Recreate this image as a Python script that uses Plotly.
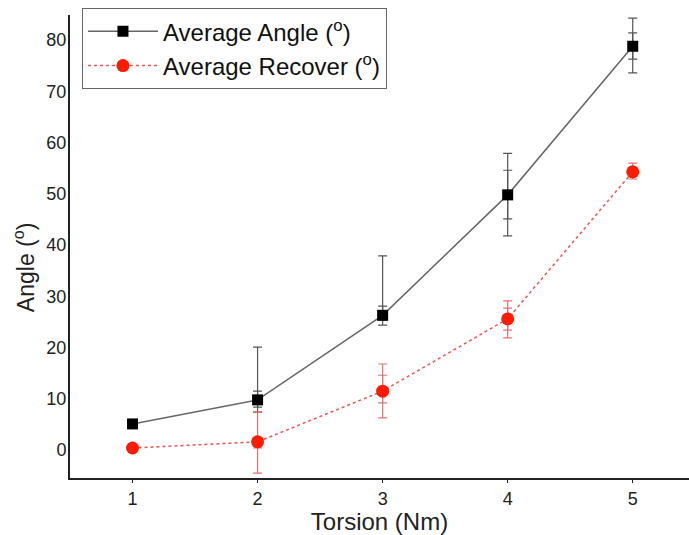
import plotly.graph_objects as go

torsion = [1, 2, 3, 4, 5]
avg_angle = [5.1, 9.8, 26.3, 49.8, 78.8]
angle_outer_up = [0, 10.3, 11.6, 8.1, 5.5]
angle_outer_dn = [0, 2.4, 1.9, 8.0, 5.2]
angle_inner_up = [0, 1.7, 1.8, 4.8, 2.6]
angle_inner_dn = [0, 1.4, 0.9, 4.7, 2.5]

avg_recover = [0.4, 1.6, 11.5, 25.6, 54.3]
rec_outer_up = [0, 5.8, 5.3, 3.5, 1.7]
rec_outer_dn = [0, 6.1, 5.2, 3.7, 1.4]
rec_inner_up = [0, 0.9, 3.1, 2.1, 0]
rec_inner_dn = [0, 1.2, 2.3, 2.2, 0]

FONT = "Liberation Sans, Arial, sans-serif"
fig = go.Figure()

def err(up, dn, color):
    return dict(type="data", symmetric=False, array=up, arrayminus=dn,
                color=color, thickness=1.2, width=4.5)

# inner error bars (no legend)
fig.add_trace(go.Scatter(x=torsion, y=avg_angle, mode="markers", showlegend=False,
                         marker=dict(size=1, color="rgba(0,0,0,0)"),
                         error_y=err(angle_inner_up, angle_inner_dn, "#555555"),
                         hoverinfo="skip"))
fig.add_trace(go.Scatter(x=torsion, y=avg_recover, mode="markers", showlegend=False,
                         marker=dict(size=1, color="rgba(0,0,0,0)"),
                         error_y=err(rec_inner_up, rec_inner_dn, "#e87070"),
                         hoverinfo="skip"))

fig.add_trace(go.Scatter(
    x=torsion, y=avg_angle, mode="lines+markers",
    name="Average Angle (<sup>o</sup>)",
    line=dict(color="#666666", width=1.5),
    marker=dict(symbol="square", size=11, color="black"),
    error_y=err(angle_outer_up, angle_outer_dn, "#555555")))
fig.add_trace(go.Scatter(
    x=torsion, y=avg_recover, mode="lines+markers",
    name="Average Recover (<sup>o</sup>)",
    line=dict(color="#e85555", width=1.5, dash="dot"),
    marker=dict(symbol="circle", size=13, color="#ff1a00"),
    error_y=err(rec_outer_up, rec_outer_dn, "#e87070")))

fig.update_layout(
    width=689, height=535,
    margin=dict(l=70, r=0, t=15, b=57),
    paper_bgcolor="white", plot_bgcolor="white",
    font=dict(family=FONT, size=18, color="#222222"),
    legend=dict(x=0.019, y=1.015, xanchor="left", yanchor="top",
                bordercolor="#666666", borderwidth=1.2,
                font=dict(size=24, color="#111111"),
                bgcolor="white", itemwidth=70, tracegroupgap=0),
    xaxis=dict(range=[0.5, 5.45], tickvals=torsion, ticktext=[str(v) for v in torsion],
               showline=True, linecolor="#222222", linewidth=2, mirror=False,
               ticks="outside", ticklen=3, tickcolor="#222222", showgrid=False,
               zeroline=False,
               title=dict(text="Torsion (Nm)", font=dict(size=24), standoff=8)),
    yaxis=dict(range=[-5.45, 84.9], dtick=10, tick0=0,
               showline=True, linecolor="#222222", linewidth=2,
               ticks="", showgrid=False, zeroline=False,
               ticklabelstandoff=-2),
    annotations=[dict(text="Angle (<sup>o</sup>)", textangle=-90,
                      xref="paper", yref="paper", x=-0.073, y=0.455,
                      xanchor="center", yanchor="middle", showarrow=False,
                      font=dict(size=23, color="#222222"))],
)

fig.write_html("out.html")
